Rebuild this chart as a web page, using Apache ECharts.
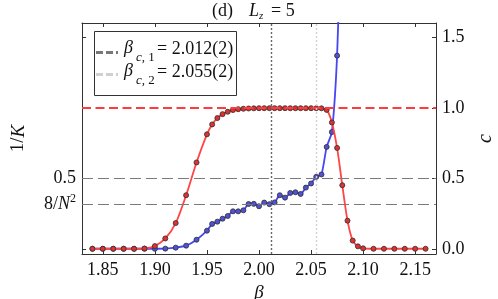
<!DOCTYPE html>
<html><head><meta charset="utf-8">
<script src="https://cdn.jsdelivr.net/npm/echarts@6/dist/echarts.min.js"></script>
<style>html,body{margin:0;padding:0;background:#fff}#c{width:498px;height:299px}</style>
</head><body><div id="c"></div>
<script>
// ---- data ----
const betaC = [1.84,1.85,1.86,1.87,1.88,1.89,1.90,1.91,1.92,1.93,1.94,1.95,1.955,1.96,1.965,1.97,1.975,1.98,1.985,1.99,1.995,2.00,2.005,2.01,2.015,2.02,2.025,2.03,2.035,2.04,2.045,2.05,2.055,2.06,2.065,2.07,2.075,2.08,2.085,2.09,2.095,2.10,2.11,2.12,2.13,2.14,2.15,2.16];
const cValues = [0.002,0.002,0.002,0.002,0.002,0.004,0.021,0.075,0.184,0.381,0.613,0.812,0.882,0.927,0.955,0.972,0.984,0.99,0.993,0.995,0.996,0.997,0.997,0.997,0.997,0.997,0.997,0.997,0.997,0.997,0.997,0.997,0.997,0.996,0.985,0.896,0.716,0.452,0.201,0.06,0.019,0.005,0.002,0.002,0.002,0.002,0.002,0.002];
const betaK = [1.84,1.85,1.86,1.87,1.88,1.89,1.90,1.91,1.92,1.93,1.94,1.95,1.955,1.96,1.965,1.97,1.975,1.98,1.985,1.99,1.995,2.00,2.005,2.01,2.015,2.02,2.025,2.03,2.035,2.04,2.045,2.05,2.055,2.06,2.065,2.07,2.075,2.08];
const invKValues = [0.002,0.002,0.002,0.002,0.002,0.002,0.002,0.003,0.01,0.024,0.066,0.13,0.178,0.194,0.215,0.234,0.267,0.267,0.274,0.319,0.32,0.303,0.329,0.318,0.33,0.381,0.364,0.397,0.402,0.39,0.435,0.464,0.511,0.528,0.723,0.828,1.369,2.5];
const xTicks = [1.85,1.90,1.95,2.00,2.05,2.10,2.15];
const cTicks = [0.0,0.5,1.0,1.5];
const invKTicks = [0.32,0.5];
const invKTickText = {0.32:'{n|8/}{i|N}{s|2}', 0.5:'{n|0.5}'};
const betaCrit = [2.012, 2.055];
const betaCritText = ['2.012(2)', '2.055(2)'];
const refLevels = [0.32, 0.5];
const plateauLevel = 1.0;
const xRange = [1.83, 2.17];
const yRange = [-0.035, 1.6];

const serif = 'Liberation Serif';
const chart = echarts.init(document.getElementById('c'), null, {renderer:'canvas'});
const pairs = (xs, ys) => xs.map((x,i)=>[x, ys[i]]);
const axisCommon = {
  axisLine:{show:true, onZero:false, lineStyle:{color:'#333', width:1}},
  splitLine:{show:false},
};
const option = {
  animation:false,
  backgroundColor:'#fff',
  grid:{left:82, right:62, top:23, bottom:45, containLabel:false, outerBoundsMode:'none'},
  xAxis:[
    Object.assign({type:'value', min:xRange[0], max:xRange[1], position:'bottom',
      name:'β', nameLocation:'middle', nameGap:24,
      nameTextStyle:{fontFamily:serif, fontStyle:'italic', fontSize:19, color:'#111'},
      axisTick:{show:true, inside:true, length:4, customValues:xTicks, lineStyle:{color:'#333'}},
      axisLabel:{show:true, customValues:xTicks, margin:7, fontFamily:serif, fontSize:18, color:'#111',
        formatter:v=>v.toFixed(2)}}, axisCommon),
    Object.assign({type:'value', min:xRange[0], max:xRange[1], position:'top',
      axisTick:{show:true, inside:true, length:4, customValues:xTicks, lineStyle:{color:'#333'}},
      axisLabel:{show:false}}, axisCommon)
  ],
  yAxis:[
    Object.assign({type:'value', min:yRange[0], max:yRange[1], position:'left',
      name:'{n|1/}{i|K}', nameLocation:'middle', nameGap:54, nameRotate:90,
      nameTextStyle:{fontFamily:serif, fontSize:19, color:'#111',
        rich:{n:{fontFamily:serif, fontSize:19, color:'#111'}, i:{fontFamily:serif, fontSize:19, fontStyle:'italic', color:'#111'}}},
      axisTick:{show:true, inside:true, length:4, customValues:[0.0,0.32,0.5,1.0,1.5], lineStyle:{color:'#333'}},
      axisLabel:{show:true, customValues:invKTicks, margin:6, fontFamily:serif, fontSize:18, color:'#111',
        formatter:v=>invKTickText[Math.round(v*100)/100] || '',
        rich:{n:{fontFamily:serif, fontSize:18, color:'#111'},
              i:{fontFamily:serif, fontSize:18, fontStyle:'italic', color:'#111'},
              s:{fontFamily:serif, fontSize:12, color:'#111', verticalAlign:'top', padding:[0,0,10,0]}}}}, axisCommon),
    Object.assign({type:'value', min:yRange[0], max:yRange[1], position:'right',
      name:'c', nameLocation:'middle', nameGap:40, nameRotate:90,
      nameTextStyle:{fontFamily:serif, fontStyle:'italic', fontSize:20, color:'#111'},
      axisTick:{show:true, inside:true, length:4, customValues:cTicks, lineStyle:{color:'#333'}},
      axisLabel:{show:true, customValues:cTicks, margin:6, fontFamily:serif, fontSize:18, color:'#111',
        formatter:v=>v.toFixed(1)}}, axisCommon)
  ],
  series:[
    {type:'line', name:'ref', data:[], silent:true, z:1,
     markLine:{silent:true, precision:4, symbol:['none','none'], label:{show:false}, animation:false,
       data:[
         {yAxis:plateauLevel, lineStyle:{color:'#ff3b3b', type:[9,4.5], width:1.8}},
         {yAxis:refLevels[0], lineStyle:{color:'#7a7a7a', type:[11,5], width:1.2}},
         {yAxis:refLevels[1], lineStyle:{color:'#7a7a7a', type:[11,5], width:1.2}},
         {xAxis:betaCrit[0], lineStyle:{color:'#666', type:[2,2], width:1.4}},
         {xAxis:betaCrit[1], lineStyle:{color:'#cfcfcf', type:[2,2], width:1.4}}
       ]}},
    {type:'line', name:'1/K', xAxisIndex:0, yAxisIndex:0, z:3,
     data:pairs(betaK, invKValues), smooth:0.2, symbol:'circle', symbolSize:5, showSymbol:true,
     lineStyle:{color:'#4646f5', width:1.8},
     itemStyle:{color:'#5050d8', borderColor:'rgba(50,50,50,0.85)', borderWidth:1}},
    {type:'line', name:'c', xAxisIndex:0, yAxisIndex:1, z:4,
     data:pairs(betaC, cValues), smooth:0.3, symbol:'circle', symbolSize:5, showSymbol:true,
     lineStyle:{color:'#ff4545', width:1.8},
     itemStyle:{color:'#e03030', borderColor:'rgba(50,50,50,0.85)', borderWidth:1}}
  ],
  graphic:[
    // title
    {type:'text', left:212, top:2, style:{text:'(d)', font:'18px '+serif, fill:'#111'}},
    {type:'text', left:249, top:2, style:{text:'L', font:'italic 18px '+serif, fill:'#111'}},
    {type:'text', left:259, top:11, style:{text:'z', font:'italic 11px '+serif, fill:'#111'}},
    {type:'text', left:271, top:2, style:{text:'= 5', font:'18px '+serif, fill:'#111'}},
    // legend
    {type:'rect', shape:{x:94.5, y:31.5, width:142, height:64}, style:{fill:'#fff', stroke:'#333', lineWidth:1}, z:10},
    {type:'line', shape:{x1:96, y1:52.5, x2:118, y2:52.5}, style:{stroke:'#777', lineWidth:3.2, lineDash:[7,3]}, z:11},
    {type:'line', shape:{x1:96, y1:74.5, x2:118, y2:74.5}, style:{stroke:'#d0d0d0', lineWidth:3.2, lineDash:[7,3]}, z:11},
    {type:'text', left:124, top:39, style:{text:'β', font:'italic 18px '+serif, fill:'#111'}, z:11},
    {type:'text', left:136, top:51, style:{text:'{i|c}{u|, 1}', rich:{i:{font:'italic 13px '+serif, fill:'#111'}, u:{font:'13px '+serif, fill:'#111'}}}, z:11},
    {type:'text', left:157, top:40, style:{text:'= '+betaCritText[0], font:'18px '+serif, fill:'#111'}, z:11},
    {type:'text', left:124, top:62, style:{text:'β', font:'italic 18px '+serif, fill:'#111'}, z:11},
    {type:'text', left:136, top:74, style:{text:'{i|c}{u|, 2}', rich:{i:{font:'italic 13px '+serif, fill:'#111'}, u:{font:'13px '+serif, fill:'#111'}}}, z:11},
    {type:'text', left:157, top:63, style:{text:'= '+betaCritText[1], font:'18px '+serif, fill:'#111'}, z:11}
  ]
};
chart.setOption(option);
</script></body></html>
